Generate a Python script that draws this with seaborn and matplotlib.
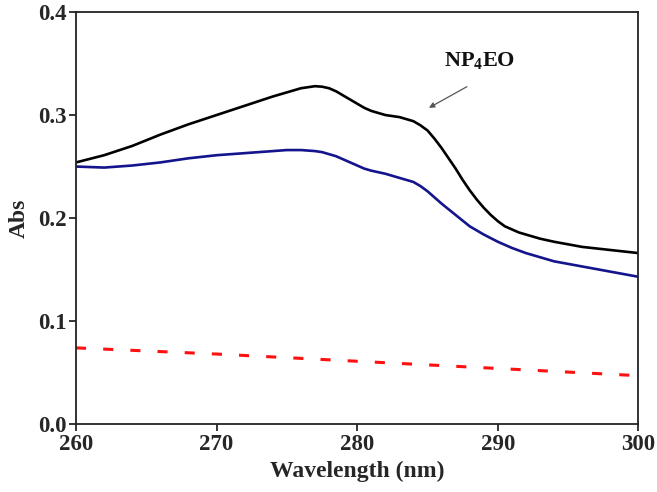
import matplotlib
matplotlib.use("Agg")
import numpy as np
import pandas as pd
import matplotlib.pyplot as plt
import seaborn as sns

# Absorbance spectra
wl_black = [260, 262, 264, 266, 268, 270, 272, 274, 275, 276, 276.5, 277, 277.5, 278,
            278.5, 279, 279.5, 280, 280.5, 281, 281.5, 282, 282.5, 283, 283.5, 284,
            284.5, 285, 285.5, 286, 286.5, 287, 287.5, 288, 288.5, 289, 289.5, 290,
            290.5, 291, 291.5, 292, 293, 294, 296, 298, 300]
abs_black = [0.254, 0.261, 0.270, 0.281, 0.291, 0.300, 0.309, 0.318, 0.322, 0.326, 0.327,
             0.328, 0.3275, 0.326, 0.323, 0.319, 0.315, 0.311, 0.307, 0.304, 0.302, 0.300,
             0.299, 0.298, 0.296, 0.294, 0.290, 0.285, 0.277, 0.268, 0.258, 0.248, 0.237,
             0.227, 0.218, 0.210, 0.203, 0.197, 0.192, 0.189, 0.186, 0.184, 0.180, 0.177,
             0.172, 0.169, 0.166]

wl_blue = [260, 262, 264, 266, 268, 270, 272, 274, 275, 276, 277, 277.5, 278, 278.5,
           279, 279.5, 280, 280.5, 281, 282, 283, 284, 284.5, 285, 285.5, 286, 287, 288,
           289, 290, 291, 292, 293, 294, 296, 298, 300]
abs_blue = [0.250, 0.249, 0.251, 0.254, 0.258, 0.261, 0.263, 0.265, 0.266, 0.266, 0.265,
            0.264, 0.262, 0.260, 0.257, 0.254, 0.251, 0.248, 0.246, 0.243, 0.239, 0.235,
            0.231, 0.226, 0.220, 0.214, 0.203, 0.192, 0.184, 0.177, 0.171, 0.166, 0.162,
            0.158, 0.153, 0.148, 0.143]

wl_red = [260, 270, 280, 290, 300]
abs_red = [0.074, 0.068, 0.061, 0.054, 0.047]

x_ticks = [260, 270, 280, 290, 300]
y_ticks = [0.0, 0.1, 0.2, 0.3, 0.4]

sns.set_style("ticks")
plt.rcParams["font.family"] = ["Liberation Serif", "DejaVu Serif"]
plt.rcParams["font.weight"] = "bold"
plt.rcParams["mathtext.fontset"] = "custom"
plt.rcParams["mathtext.rm"] = "Liberation Serif:bold"
plt.rcParams["mathtext.it"] = "Liberation Serif:bold"
plt.rcParams["mathtext.bf"] = "Liberation Serif:bold"

fig = plt.figure(figsize=(6.57, 4.92), dpi=100)
ax = fig.add_axes([0.1157, 0.138, 0.856, 0.8376])

sns.lineplot(x=wl_black, y=abs_black, ax=ax, color="black", lw=1.9, sort=False)
sns.lineplot(x=wl_blue, y=abs_blue, ax=ax, color="#14148c", lw=1.9, sort=False)
sns.lineplot(x=wl_red, y=abs_red, ax=ax, color="#ff1010", lw=2.2, sort=False,
             dashes=False, linestyle=(0, (3.3, 5.6)))

ax.set_xlim(260, 300)
ax.set_ylim(0.0, 0.4)
ax.set_xticks(x_ticks)
ax.set_yticks(y_ticks)
ax.set_yticklabels([f"{v:.1f}" for v in y_ticks])
ax.tick_params(direction="out", length=5, width=1.3, labelsize=16.5, pad=2)
for lab in ax.get_xticklabels() + ax.get_yticklabels():
    lab.set_fontweight("bold")
for spine in ax.spines.values():
    spine.set_visible(True)
    spine.set_linewidth(1.3)
    spine.set_color("#222222")

ax.set_xlabel("Wavelength (nm)", fontsize=17, fontweight="bold", labelpad=4)
ax.set_ylabel("Abs", fontsize=17, fontweight="bold", labelpad=6)

ax.annotate("", xy=(285.1, 0.307), xytext=(287.8, 0.3275),
            arrowprops=dict(arrowstyle="-|>", color="#555555", lw=0.9,
                            mutation_scale=8, shrinkA=0, shrinkB=0))
ax.text(288.7, 0.353, "NP$_4$EO", fontsize=16, fontweight="bold",
        ha="center", va="center", color="#111111")

plt.savefig("out.png", dpi=100)
plt.close(fig)
